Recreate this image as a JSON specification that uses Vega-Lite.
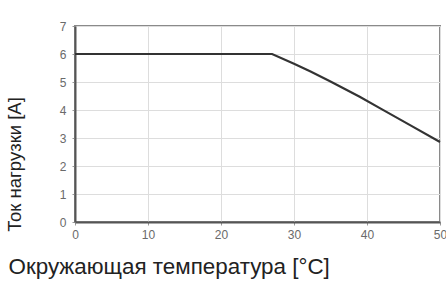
{
  "$schema": "https://vega.github.io/schema/vega-lite/v6.json",
  "width": 365,
  "height": 196,
  "autosize": "none",
  "padding": {"left": 75, "top": 26, "right": 6, "bottom": 60},
  "background": "white",
  "data": {"values": [
    {"t": 0, "i": 6.0},
    {"t": 27, "i": 6.0},
    {"t": 30, "i": 5.65},
    {"t": 32.2, "i": 5.38},
    {"t": 35, "i": 5.02},
    {"t": 39, "i": 4.47},
    {"t": 42, "i": 4.03},
    {"t": 45.9, "i": 3.46},
    {"t": 50, "i": 2.86}
  ]},
  "config": {
    "view": {"stroke": "#8a8a8a", "strokeWidth": 2},
    "axis": {
      "labelFont": "Liberation Sans",
      "labelFontSize": 12,
      "labelColor": "#6a6a6a",
      "titleFont": "Liberation Sans",
      "titleFontWeight": "normal",
      "titleColor": "#222",
      "gridColor": "#ddd",
      "gridWidth": 1,
      "domainColor": "#555",
      "domainWidth": 2,
      "tickColor": "#999",
      "tickSize": 3
    }
  },
  "mark": {"type": "line", "color": "#333", "strokeWidth": 2.2},
  "encoding": {
    "x": {
      "field": "t", "type": "quantitative",
      "scale": {"domain": [0, 50], "nice": false},
      "axis": {
        "values": [0, 10, 20, 30, 40, 50],
        "title": "Окружающая температура [°C]",
        "titleFontSize": 22.4,
        "titleAnchor": "start",
        "titleAlign": "left",
        "titleX": -67,
        "titleY": 51,
        "titleBaseline": "alphabetic",
        "labelPadding": 4,
        "labelFlush": false
      }
    },
    "y": {
      "field": "i", "type": "quantitative",
      "scale": {"domain": [0, 7], "nice": false},
      "axis": {
        "values": [0, 1, 2, 3, 4, 5, 6, 7],
        "title": "Ток нагрузки [A]",
        "titleFontSize": 18.5,
        "titleAngle": -90,
        "titleAnchor": "middle",
        "titleAlign": "center",
        "titleBaseline": "alphabetic",
        "titleX": -55,
        "titleY": 138,
        "labelPadding": 6
      }
    }
  }
}
